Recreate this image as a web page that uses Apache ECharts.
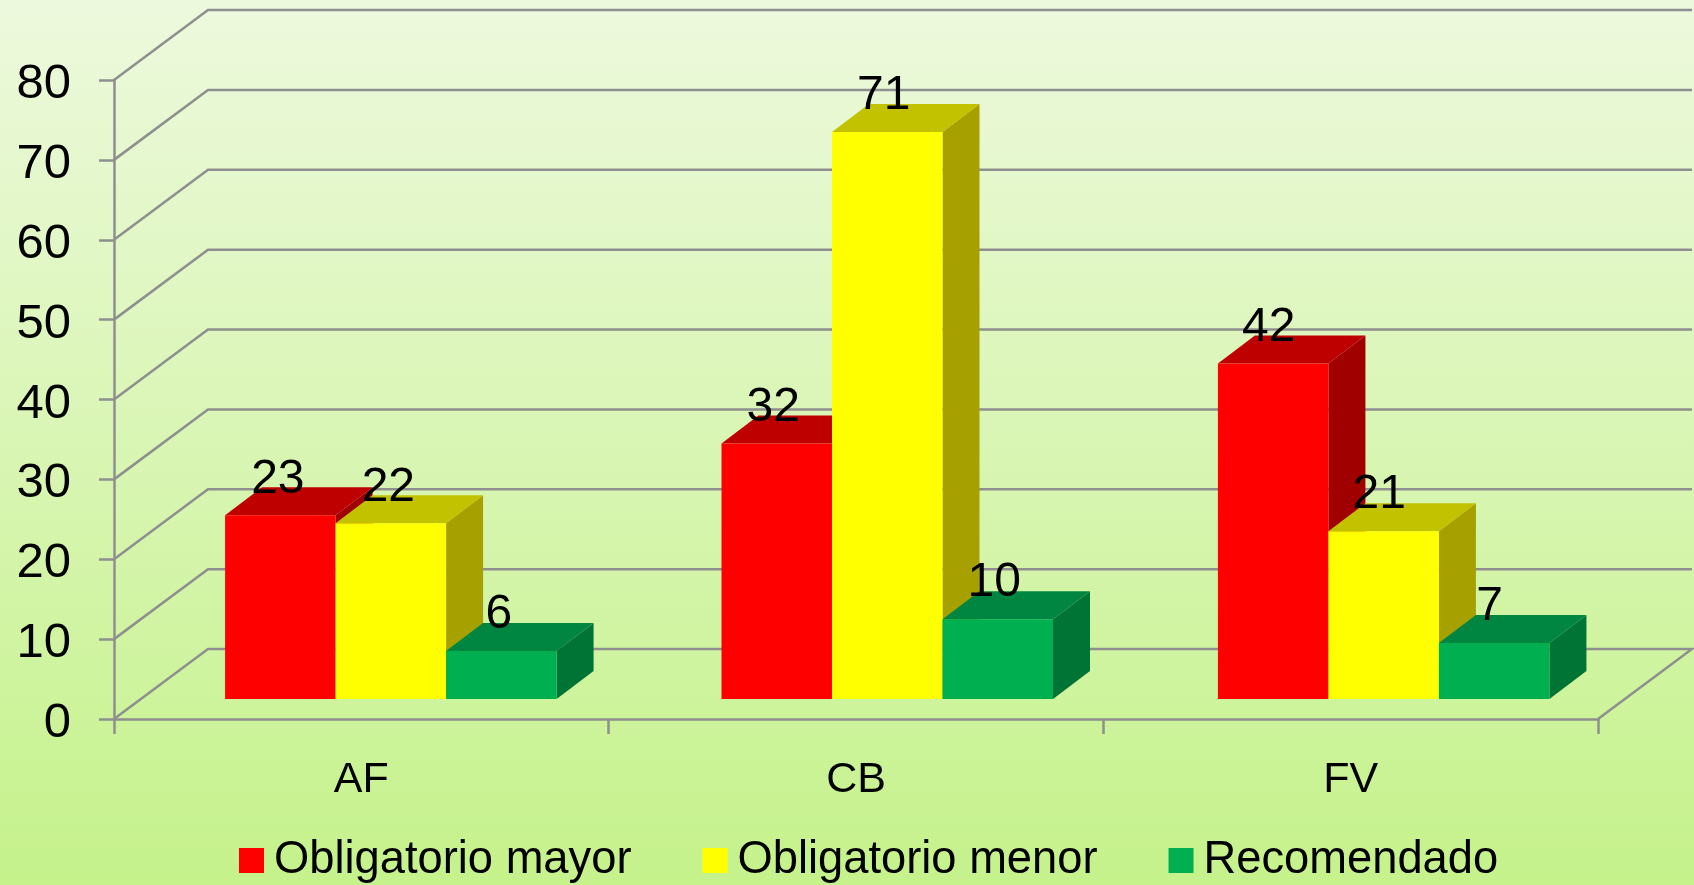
<!DOCTYPE html>
<html lang="es">
  <head>
    <meta charset="UTF-8">
    <title>Obligatorio / Recomendado</title>
    <style>
      html, body { margin: 0; padding: 0; }
      #chart { width: 1694px; height: 885px; }
    </style>
  </head>
  <body>
    <div id="chart"></div>
  </body>
  <script src="https://cdn.jsdelivr.net/npm/echarts@6/dist/echarts.min.js"></script>
  <script>
    const categories = ['AF', 'CB', 'FV']
    const seriesNames = ['Obligatorio mayor', 'Obligatorio menor', 'Recomendado']
    const mayor = [23, 32, 42]
    const menor = [22, 71, 21]
    const recomendado = [6, 10, 7]
    const yTicks = [0, 10, 20, 30, 40, 50, 60, 70, 80]

    const frontColors = ['#ff0000', '#ffff00', '#00b050']
    const topColors = ['#bf0000', '#c2c200', '#008640']
    const sideColors = ['#a00000', '#a6a000', '#007434']
    const lineColor = '#8f8f8f'
    const fontName = '"Liberation Sans", Arial, sans-serif'

    // 3D look, in pixels
    const wallDx = 94
    const wallDy = -70
    const barDx = 37
    const barDy = -28
    const barWidth = 110.5
    const floorLift = 20

    function wallItem(params, api) {
      const cs = params.coordSys
      const value = api.value(0)
      const y = api.coord([0, value])[1]
      const points = [[cs.x, y], [cs.x + wallDx, y + wallDy], [cs.x + cs.width + wallDx, y + wallDy]]
      if (value === 0) {
        points.push([cs.x + cs.width, y])
      }
      return {
        type: 'polyline',
        shape: { points: points },
        style: { stroke: lineColor, lineWidth: 2.5, fill: null }
      }
    }

    function barItem(seriesIndex) {
      return function(params, api) {
        const cat = api.value(0)
        const val = api.value(1)
        const center = api.coord([cat, 0])[0] + 29.5 + cat * 1.75
        const left = center + (seriesIndex - 1.5) * barWidth
        const right = left + barWidth
        const base = api.coord([cat, 0])[1] - floorLift
        const top = api.coord([cat, val])[1] - floorLift
        return {
          type: 'group',
          children: [
            {
              type: 'polygon',
              shape: { points: [[right, top], [right + barDx, top + barDy], [right + barDx, base + barDy], [right, base]] },
              style: { fill: sideColors[seriesIndex] }
            },
            {
              type: 'polygon',
              shape: { points: [[left, top], [left + barDx, top + barDy], [right + barDx, top + barDy], [right, top]] },
              style: { fill: topColors[seriesIndex] }
            },
            {
              type: 'rect',
              shape: { x: left, y: top, width: barWidth, height: base - top },
              style: { fill: frontColors[seriesIndex] }
            },
            {
              type: 'text',
              style: {
                text: String(val),
                x: (left + right) / 2 - 2.5 - cat,
                y: top - 36,
                align: 'center',
                verticalAlign: 'middle',
                fill: '#000',
                font: '48px ' + fontName
              }
            }
          ]
        }
      }
    }

    const values = [mayor, menor, recomendado]
    const series = [{
      type: 'custom',
      name: 'walls',
      silent: true,
      z: 1,
      renderItem: wallItem,
      encode: { y: 0 },
      data: yTicks.map(v => [v])
    }]
    seriesNames.forEach((name, i) => {
      series.push({
        type: 'custom',
        name: name,
        z: 2 + i,
        itemStyle: { color: frontColors[i] },
        renderItem: barItem(i),
        encode: { x: 0, y: 1 },
        data: values[i].map((v, c) => [c, v])
      })
    })

    const chart = echarts.init(document.getElementById('chart'))
    chart.setOption({
      animation: false,
      backgroundColor: new echarts.graphic.LinearGradient(0, 0, 0, 1, [
        { offset: 0, color: '#edf9dd' },
        { offset: 1, color: '#c5f28b' }
      ]),
      grid: { left: 114, right: 96, top: 80, bottom: 166 },
      legend: {
        left: 239,
        top: 838,
        padding: 0,
        icon: 'rect',
        itemWidth: 25,
        itemHeight: 25,
        itemGap: 71,
        data: seriesNames,
        textStyle: { color: '#000', fontFamily: fontName, fontSize: 45.3, padding: [8, 0, 0, 5] }
      },
      xAxis: {
        type: 'category',
        data: categories,
        axisLine: { lineStyle: { color: lineColor, width: 2.5 } },
        axisTick: { show: true, length: 15, lineStyle: { color: lineColor, width: 2.5 } },
        axisLabel: { color: '#000', fontFamily: fontName, fontSize: 43, margin: 40 }
      },
      yAxis: {
        type: 'value',
        min: 0,
        max: 80,
        interval: 10,
        splitLine: { show: false },
        axisLine: { show: true, lineStyle: { color: lineColor, width: 2.5 } },
        axisTick: { show: true, length: 15, lineStyle: { color: lineColor, width: 2.5 } },
        axisLabel: {
          margin: 43,
          formatter: '{v|{value}}',
          rich: { v: { color: '#000', fontFamily: fontName, fontSize: 49, padding: [9, 0, 0, 0] } }
        }
      },
      series: series
    })
  </script>
</html>
